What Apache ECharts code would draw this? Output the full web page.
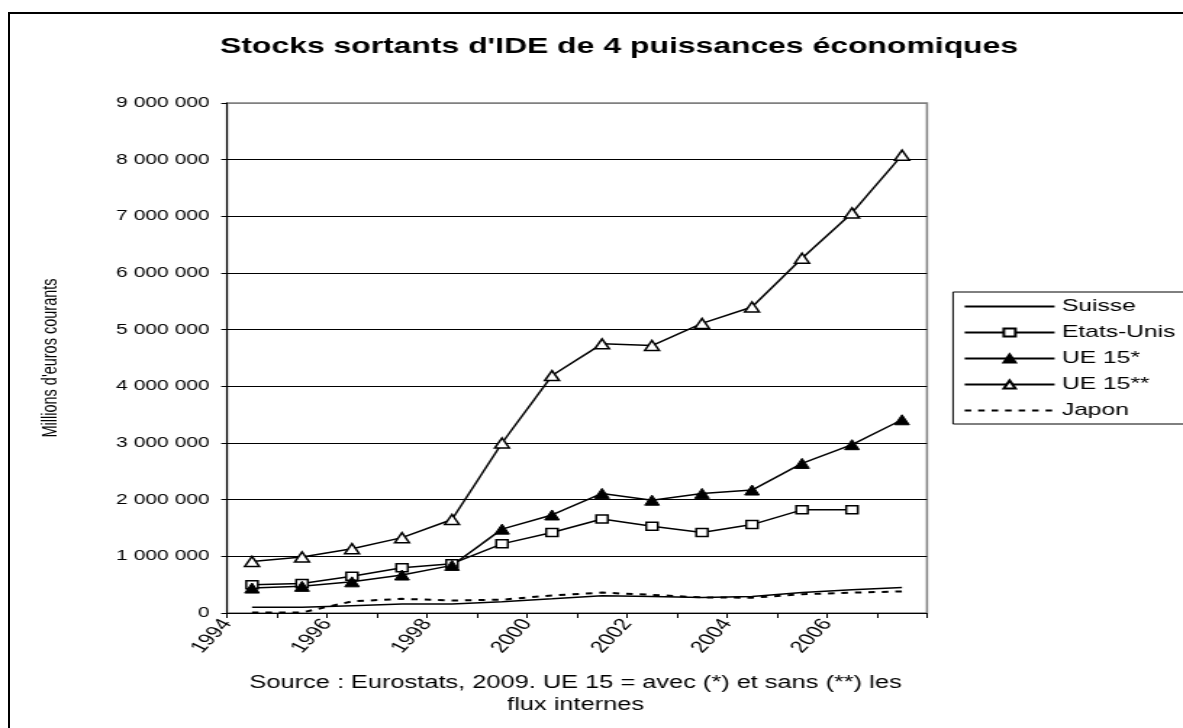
<!DOCTYPE html>
<html><head><meta charset="utf-8">
<script src="https://cdn.jsdelivr.net/npm/echarts@6/dist/echarts.min.js"></script>
<style>
html,body{margin:0;padding:0;background:#fff;overflow:hidden;width:1183px;height:728px;}
#frame{position:absolute;left:8px;top:12px;width:1300px;height:800px;border:2px solid #000;}
#chart{position:absolute;left:0;top:0;width:816px;height:728px;transform:scaleX(1.449755);transform-origin:0 0;}
</style></head><body>
<div id="frame"></div>
<div id="chart"></div>
<script>
// ---- data ----
const categories = ['1994','1995','1996','1997','1998','1999','2000','2001','2002','2003','2004','2005','2006','2007'];
const xTickLabels = ['1994','','1996','','1998','','2000','','2002','','2004','','2006','',''];
const suisse    = [100000, 100000, 130000, 160000, 160000, 200000, 250000, 305000, 290000, 275000, 290000, 360000, 410000, 450000];
const etatsUnis = [500000, 520000, 650000, 800000, 870000, 1220000, 1420000, 1660000, 1530000, 1420000, 1560000, 1820000, 1820000, null];
const ue15a     = [440000, 470000, 550000, 670000, 840000, 1480000, 1730000, 2110000, 1990000, 2110000, 2170000, 2640000, 2970000, 3410000];
const ue15b     = [910000, 990000, 1135000, 1330000, 1650000, 3000000, 4190000, 4750000, 4720000, 5110000, 5400000, 6260000, 7060000, 8080000];
const japon     = [10000, 10000, 205000, 250000, 220000, 235000, 310000, 360000, 320000, 275000, 270000, 330000, 360000, 380000];
const seriesNames = ['Suisse','Etats-Unis','UE 15*','UE 15**','Japon'];
const titleText = "Stocks sortants d'IDE de 4 puissances économiques";
const sourceText = "Source : Eurostats, 2009. UE 15 = avec (*) et sans (**) les\nflux internes";
const yAxisName = "Millions d'euros courants";

const FONT = "'Liberation Sans', Arial, sans-serif";
const chart = echarts.init(document.getElementById('chart'), null, {renderer: 'canvas'});
const fmt = v => String(v).replace(/\B(?=(\d{3})+(?!\d))/g, ' ');
const gridColors = ['#000','#000','#000','#000','#000','#000','#000','#000','#000','#808080'];
const noMarker = {color: 'rgba(0,0,0,0)', borderColor: 'rgba(0,0,0,0)', borderWidth: 0, opacity: 0};

chart.setOption({
  animation: false,
  textStyle: {fontFamily: FONT, color: '#000'},
  title: [
    {text: titleText, left: 427, top: 36, textAlign: 'center', padding: 0,
     textStyle: {fontFamily: FONT, fontSize: 22, fontWeight: 'bold', color: '#000'}},
    {text: sourceText, left: 397, top: 672, textAlign: 'center', padding: 0,
     textStyle: {fontFamily: FONT, fontSize: 17.5, fontWeight: 'normal', color: '#000', lineHeight: 22}}
  ],
  legend: {
    orient: 'vertical', left: 657.4, top: 292,
    padding: [6, 30, 5, 7],
    itemWidth: 62, itemHeight: 10, itemGap: 9,
    backgroundColor: '#fff', borderColor: '#000', borderWidth: 1,
    textStyle: {fontFamily: FONT, fontSize: 17, color: '#000'},
    data: [
      {name: seriesNames[0], itemStyle: noMarker},
      {name: seriesNames[1]},
      {name: seriesNames[2]},
      {name: seriesNames[3]},
      {name: seriesNames[4], itemStyle: noMarker}
    ]
  },
  grid: {left: 156.58, top: 103, width: 482.84, height: 510, show: true,
         borderColor: '#808080', borderWidth: 1.5, backgroundColor: 'transparent'},
  xAxis: [
    {type: 'category', data: categories, boundaryGap: true, show: false, position: 'bottom'},
    {type: 'category', data: xTickLabels, boundaryGap: false, position: 'bottom',
     axisLine: {show: true, lineStyle: {color: '#000', width: 1}},
     axisTick: {show: true, interval: 0, length: 5, lineStyle: {color: '#000'}},
     axisLabel: {interval: 0, rotate: 55, margin: 8, fontFamily: FONT, fontSize: 16.5, color: '#000'},
     splitLine: {show: false}}
  ],
  yAxis: {
    type: 'value', min: 0, max: 9000000, interval: 1000000,
    name: yAxisName, nameLocation: 'middle', nameRotate: 90, nameGap: 114,
    nameTextStyle: {fontFamily: FONT, fontSize: 14.5, color: '#000'},
    axisLine: {show: true, lineStyle: {color: '#000', width: 1}},
    axisTick: {show: true, length: 4, lineStyle: {color: '#000'}},
    axisLabel: {formatter: fmt, margin: 12, fontFamily: FONT, fontSize: 14.5, color: '#000'},
    splitLine: {show: true, lineStyle: {color: gridColors, width: 1}}
  },
  series: [
    {name: seriesNames[0], type: 'line', data: suisse, symbol: 'none',
     lineStyle: {color: '#000', width: 1.5}, itemStyle: {color: '#000'}},
    {name: seriesNames[1], type: 'line', data: etatsUnis, symbol: 'rect', symbolSize: 8,
     lineStyle: {color: '#000', width: 1.5}, itemStyle: {color: '#fff', borderColor: '#000', borderWidth: 1.5}},
    {name: seriesNames[2], type: 'line', data: ue15a, symbol: 'triangle', symbolSize: 10,
     lineStyle: {color: '#000', width: 1.5}, itemStyle: {color: '#000', borderColor: '#000', borderWidth: 1}},
    {name: seriesNames[3], type: 'line', data: ue15b, symbol: 'triangle', symbolSize: 10,
     lineStyle: {color: '#000', width: 1.5}, itemStyle: {color: '#fff', borderColor: '#000', borderWidth: 1.5}},
    {name: seriesNames[4], type: 'line', data: japon, symbol: 'none',
     lineStyle: {color: '#000', width: 2, type: [4.5, 4.8]}, itemStyle: {color: '#000'}}
  ]
});
</script>
</body></html>
